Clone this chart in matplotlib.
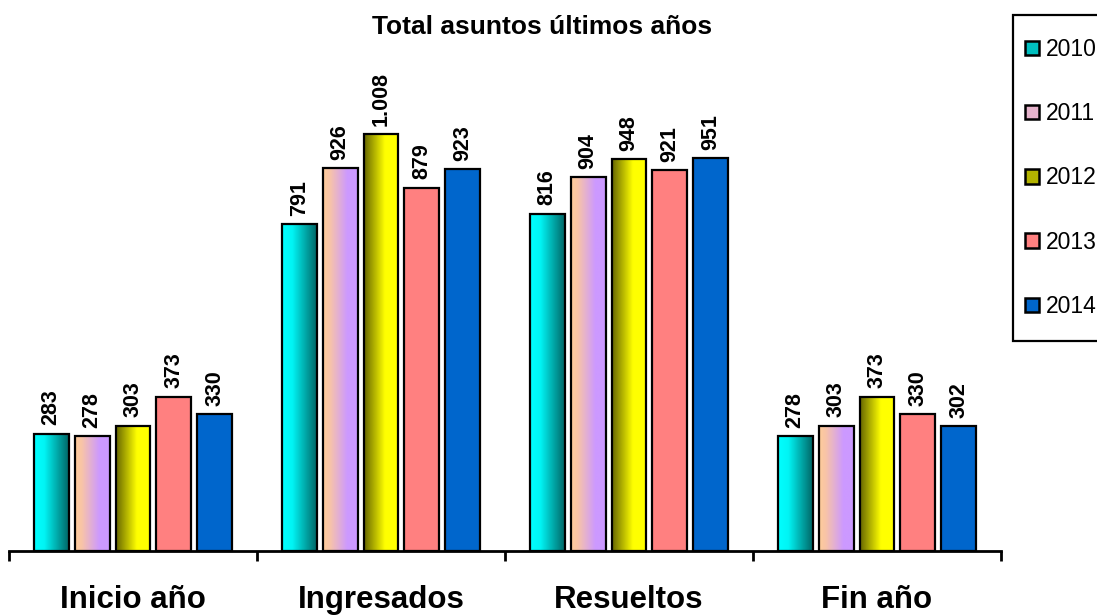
import numpy as np
import matplotlib; matplotlib.use("Agg")
import matplotlib.pyplot as plt
from matplotlib.colors import LinearSegmentedColormap
from matplotlib.patches import Patch, Rectangle

plt.rcParams["font.family"] = ["Liberation Sans", "DejaVu Sans"]

categories = ["Inicio año", "Ingresados", "Resueltos", "Fin año"]
years = ["2010", "2011", "2012", "2013", "2014"]
v2010 = [283, 791, 816, 278]
v2011 = [278, 926, 904, 303]
v2012 = [303, 1008, 948, 373]
v2013 = [373, 879, 921, 330]
v2014 = [330, 923, 951, 302]
series = [v2010, v2011, v2012, v2013, v2014]

# horizontal gradients (left -> right) for the first three years, flat for the rest
grads = [
    [(0.0, "#00FFFF"), (0.3, "#00F4F4"), (1.0, "#006666")],
    [(0.0, "#FFCC99"), (0.2, "#F8C4A8"), (0.7, "#CC99FF"), (1.0, "#CC99FF")],
    [(0.0, "#666600"), (0.6, "#FFFF00"), (1.0, "#FFFF00")],
    None,
    None,
]
solid = [None, None, None, "#FF8080", "#0066CC"]
legend_cols = ["#00BFBF", "#E6B3CC", "#B3B300", "#FF8080", "#0066CC"]

fig = plt.figure(figsize=(10.97, 6.15), dpi=100)
ax = fig.add_axes([9/1097, 0.1046, 992/1097, 0.806])

x = np.arange(len(categories))
step, w = 0.165, 0.141
ramp = np.linspace(0, 1, 256).reshape(1, -1)
for i, vals in enumerate(series):
    xs = x + (i - 2) * step
    if grads[i] is None:
        bars = ax.bar(xs, vals, w, color=solid[i], edgecolor="black", lw=1.6, zorder=3)
    else:
        cmap = LinearSegmentedColormap.from_list(f"g{i}", grads[i])
        bars = ax.bar(xs, vals, w, facecolor="none", edgecolor="black", lw=1.6, zorder=3)
        for b in bars:
            ax.imshow(ramp, cmap=cmap, aspect="auto", interpolation="bilinear",
                      extent=[b.get_x(), b.get_x() + b.get_width(), 0, b.get_height()], zorder=2)
    for b, v in zip(bars, vals):
        ax.annotate(f"{v:,}".replace(",", "."), (b.get_x() + b.get_width()/2, v),
                    xytext=(0, 6), textcoords="offset points", rotation=90,
                    ha="center", va="bottom", fontsize=15.5, fontweight="bold")

ax.set_xlim(-0.5, 3.5)
ax.set_ylim(0, 1200)
for s in ["top", "right", "left"]:
    ax.spines[s].set_visible(False)
ax.spines["bottom"].set_linewidth(2)
ax.set_yticks([])
ax.set_xticks(np.arange(-0.5, 4.0, 1.0))
ax.set_xticklabels([])
ax.tick_params(axis="x", which="major", length=7, width=2, direction="out")
ax.set_xticks(x, minor=True)
ax.set_xticklabels(categories, minor=True, fontsize=22.5, fontweight="bold")
ax.tick_params(axis="x", which="minor", length=0, pad=25)

fig.text(542/1097, 1 - 34/615, "Total asuntos últimos años", ha="center", va="baseline",
         fontsize=19, fontweight="bold")

# legend box (runs off the right edge like the original)
fig.patches.append(Rectangle((1013/1097, 1 - 341/615), 100/1097, 326/615,
                             transform=fig.transFigure, facecolor="white",
                             edgecolor="black", lw=1.6, zorder=0))
handles = [Patch(facecolor=c, edgecolor="black", lw=1.8) for c in legend_cols]
leg = fig.legend(handles, years, loc="upper left", bbox_to_anchor=(1025/1097, 1 - 38/615),
                 fontsize=16.5, frameon=False,
                 handlelength=0.6, handleheight=0.6, handletextpad=0.3,
                 labelspacing=1.8, borderpad=0, borderaxespad=0)

fig.savefig("out.png", dpi=100)
